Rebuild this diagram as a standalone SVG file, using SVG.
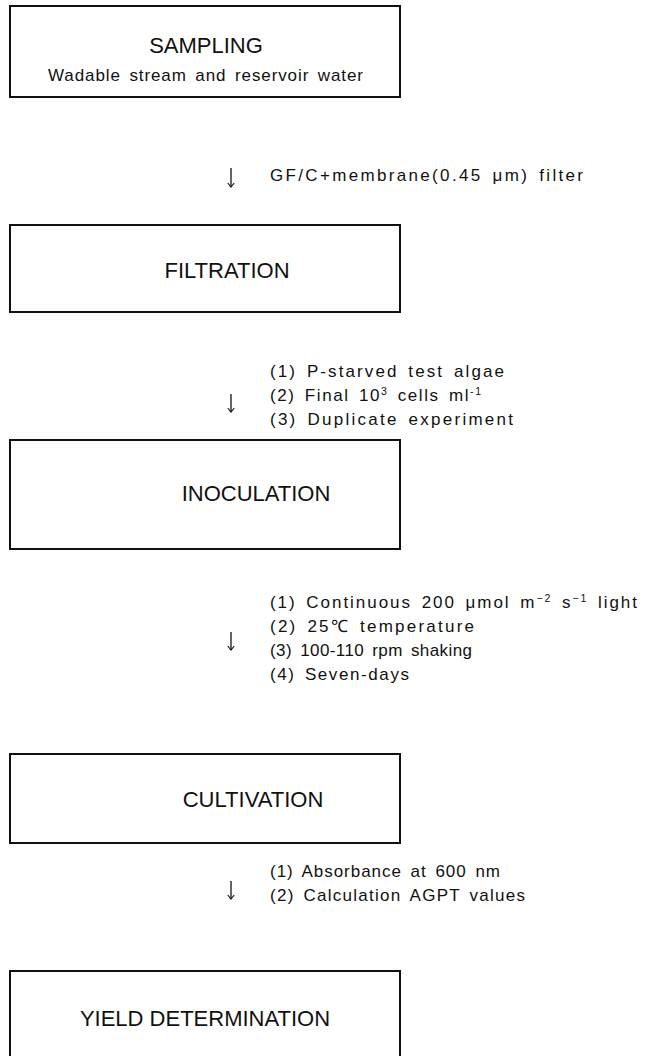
<svg xmlns="http://www.w3.org/2000/svg" width="647" height="1056" viewBox="0 0 647 1056">
  <style>
    .box { fill: #ffffff; stroke: #111111; stroke-width: 2; }
    .title { font-family: "Liberation Sans", Arial, sans-serif; font-size: 22px; fill: #111111; text-anchor: middle; }
    .note { font-family: "Liberation Sans", Arial, sans-serif; font-size: 17px; fill: #111111; word-spacing: 3px; }
    .sup { font-size: 10.5px; }
    .flow { stroke: #111111; stroke-width: 1.3; fill: none; }
  </style>
  <defs>
    <!-- open V head, drawn pointing along +x so orient="auto" turns it down the line -->
    <marker id="head" viewBox="0 0 10 10" refX="9" refY="5" markerWidth="8" markerHeight="8" markerUnits="userSpaceOnUse" orient="auto">
      <path d="M4,1 L9,5 L4,9" fill="none" stroke="#111111" stroke-width="1.4"/>
    </marker>
  </defs>
  <rect width="647" height="1056" fill="#ffffff"/>

  <g id="sampling">
    <rect class="box" x="10" y="6" width="390" height="91"/>
    <text class="title" x="206" y="53">SAMPLING</text>
    <text class="note" x="48" y="81" textLength="315" lengthAdjust="spacing">Wadable stream and reservoir water</text>
  </g>

  <g id="filtration">
    <rect class="box" x="10" y="225" width="390" height="87"/>
    <text class="title" x="227" y="278">FILTRATION</text>
  </g>

  <g id="inoculation">
    <rect class="box" x="10" y="440" width="390" height="109"/>
    <text class="title" x="256" y="501">INOCULATION</text>
  </g>

  <g id="cultivation">
    <rect class="box" x="10" y="754" width="390" height="89"/>
    <text class="title" x="253" y="807">CULTIVATION</text>
  </g>

  <g id="yield">
    <rect class="box" x="10" y="971" width="390" height="95"/>
    <text class="title" x="205" y="1026">YIELD DETERMINATION</text>
  </g>

  <g id="connectors">
    <line class="flow" x1="231" y1="168" x2="231" y2="187" marker-end="url(#head)"/>
    <line class="flow" x1="231" y1="394" x2="231" y2="412" marker-end="url(#head)"/>
    <line class="flow" x1="231" y1="632" x2="231" y2="650" marker-end="url(#head)"/>
    <line class="flow" x1="231" y1="881" x2="231" y2="899" marker-end="url(#head)"/>
  </g>

  <g id="step-notes">
    <text class="note" x="270" y="181" textLength="313" lengthAdjust="spacing">GF/C+membrane(0.45 μm) filter</text>

    <text class="note" x="270" y="377" textLength="234" lengthAdjust="spacing">(1) P-starved test algae</text>
    <text class="note" x="270" y="401" textLength="211" lengthAdjust="spacing">(2) Final 10<tspan class="sup" dy="-6">3</tspan><tspan dy="6"> cells ml</tspan><tspan class="sup" dy="-6">-1</tspan></text>
    <text class="note" x="270" y="425" textLength="243" lengthAdjust="spacing">(3) Duplicate experiment</text>

    <text class="note" x="270" y="608" textLength="367" lengthAdjust="spacing">(1) Continuous 200 μmol m<tspan class="sup" dy="-6">−2</tspan><tspan dy="6"> s</tspan><tspan class="sup" dy="-6">−1</tspan><tspan dy="6"> light</tspan></text>
    <text class="note" x="270" y="632" textLength="204" lengthAdjust="spacing">(2) 25℃ temperature</text>
    <text class="note" x="270" y="656" textLength="202" lengthAdjust="spacing">(3) 100-110 rpm shaking</text>
    <text class="note" x="270" y="680" textLength="139" lengthAdjust="spacing">(4) Seven-days</text>

    <text class="note" x="270" y="877" textLength="230" lengthAdjust="spacing">(1) Absorbance at 600 nm</text>
    <text class="note" x="270" y="901" textLength="255" lengthAdjust="spacing">(2) Calculation AGPT values</text>
  </g>
</svg>
